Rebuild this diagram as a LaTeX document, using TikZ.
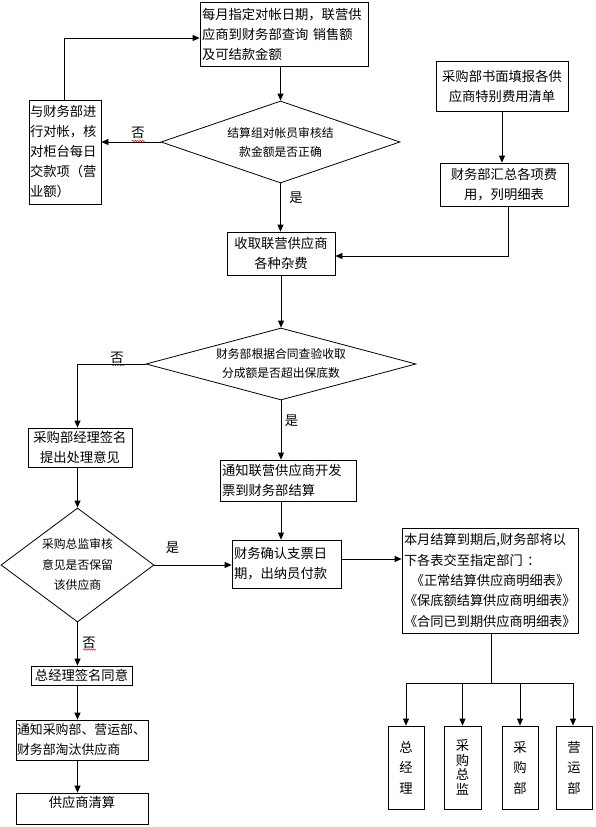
\documentclass[tikz,border=0pt]{standalone}
\usepackage{fontspec}
\setmainfont{Noto Sans CJK SC}
\usetikzlibrary{arrows.meta,shapes.geometric,decorations.pathmorphing}
\begin{document}
\begin{tikzpicture}[x=1pt,y=-1pt,
  every node/.style={inner sep=1pt},
  box/.style={draw,line width=0.8pt,rectangle,font=\fontsize{13.3}{20}\selectfont},
  dia/.style={draw,line width=0.8pt,diamond,inner sep=0pt,align=center},
  arr/.style={line width=0.8pt,-{Triangle[length=7pt,width=6pt]}},
  ln/.style={line width=0.8pt},
  lbl/.style={font=\fontsize{13.3}{16}\selectfont},
  wavy/.style={red,line width=0.5pt,decorate,decoration={snake,amplitude=0.7pt,segment length=2.5pt}}
]
\fill[white] (0,0) rectangle (596,827);
\useasboundingbox (0,0) rectangle (596,827);

% top flow
\node[box,minimum width=168pt,minimum height=64pt,text width=164pt,align=left] (b1) at (284,34)
  {每月指定对帐日期，联营供\\应商到财务部查询 销售额\\及可结款金额};
\node[dia,minimum width=239pt,minimum height=82pt,aspect=2.9,font=\fontsize{11.8}{19}\selectfont] (d1) at (280.5,142)
  {结算组对帐员审核结\\款金额是否正确};
\node[box,minimum width=72pt,minimum height=104pt,text width=70pt,align=left] (bL) at (65,152)
  {与财务部进\\行对帐，核\\对柜台每日\\交款项（营\\业额）};
\node[box,minimum width=108pt,minimum height=43pt,text width=104pt,align=center] (b2) at (281,253.5)
  {收取联营供应商\\各种杂费};
\node[box,minimum width=132pt,minimum height=50pt,text width=128pt,align=center] (bR1) at (502,86)
  {采购部书面填报各供\\应商特别费用清单};
\node[box,minimum width=128pt,minimum height=43pt,text width=124pt,align=center] (bR2) at (504,184.5)
  {财务部汇总各项费\\用，列明细表};

% middle
\node[dia,minimum width=270pt,minimum height=72pt,aspect=3.5,font=\fontsize{11.8}{19}\selectfont] (d2) at (281,364)
  {财务部根据合同查验收取\\分成额是否超出保底数};
\node[box,minimum width=104pt,minimum height=39pt,text width=100pt,align=center] (b3) at (80,447.5)
  {采购部经理签名\\提出处理意见};
\node[box,minimum width=136pt,minimum height=41pt,text width=132pt,align=left] (b4) at (288,480.5)
  {通知联营供应商开发\\票到财务部结算};
\node[box,minimum width=109pt,minimum height=48pt,text width=105pt,align=left] (b5) at (286.5,564)
  {财务确认支票日\\期，出纳员付款};
\node[box,minimum width=176pt,minimum height=105pt,text width=172pt,align=left,font=\fontsize{13.2}{20.3}\selectfont] (b6) at (490,580.5)
  {本月结算到期后,财务部将以\\下各表交至指定部门 ：\\\hspace*{6.8pt}《正常结算供应商明细表》\\《保底额结算供应商明细表》\\《合同已到期供应商明细表》};

% lower left
\node[dia,minimum width=153pt,minimum height=114pt,aspect=1.35,font=\fontsize{11.8}{20.5}\selectfont] (d3) at (77.5,565)
  {采购总监审核\\意见是否保留\\该供应商};
\node[box,minimum width=101pt,minimum height=19pt,text width=97pt,align=center] (b7) at (81.5,675.5)
  {总经理签名同意};
\node[box,minimum width=132pt,minimum height=40pt,text width=130pt,align=left,font=\fontsize{12.9}{20}\selectfont] (b8) at (82,740)
  {通知采购部、营运部、\\财务部淘汰供应商};
\node[box,minimum width=132pt,minimum height=31pt,text width=128pt,align=center] (b9) at (82,808.5)
  {\raisebox{5pt}[10pt][3pt]{供应商清算}};

% bottom right departments
\node[box,minimum width=36pt,minimum height=83pt,text width=32pt,align=center,font=\fontsize{13.3}{20.5}\selectfont] (k1) at (406,767.5) {总\\经\\理};
\node[box,minimum width=37pt,minimum height=83pt,text width=33pt,align=center,font=\fontsize{13.3}{14.5}\selectfont] (k2) at (462.5,767.5) {采\\购\\总\\监};
\node[box,minimum width=36pt,minimum height=83pt,text width=32pt,align=center,font=\fontsize{13.3}{20.5}\selectfont] (k3) at (520,767.5) {采\\购\\部};
\node[box,minimum width=36pt,minimum height=83pt,text width=32pt,align=center,font=\fontsize{13.3}{20.5}\selectfont] (k4) at (574,767.5) {营\\运\\部};

% labels
\node[lbl] (n1) at (138,133) {否};
\node[lbl] (y1) at (296,198) {是};
\node[lbl] (n2) at (117,358) {否};
\node[lbl] (y2) at (291.5,421) {是};
\node[lbl] (y3) at (172.5,547.5) {是};
\node[lbl] (n3) at (89,642.5) {否};
\draw[wavy] (132,141) -- (145,141);
\draw[wavy] (111,365) -- (124,365);
\draw[wavy] (83,649.5) -- (96,649.5);

% connectors
\draw[arr] (d1.north |- b1.south) -- (d1.north);
\draw[arr] (d1.west) -- (d1.west -| bL.east);
\draw[arr] ([xshift=-1pt]bL.north) |- ([yshift=-4pt]b1.west);
\draw[arr] (d1.south) -- (d1.south |- b2.north);
\draw[arr] (bR1.south) -- (bR1.south |- bR2.north);
\draw[arr] ([xshift=4pt]bR2.south) |- ([yshift=-2.5pt]b2.east);
\draw[arr] (d2.north |- b2.south) -- (d2.north);
\draw[arr] (d2.west) -| (d3.north |- b3.north);
\draw[arr] (d2.south) -- (d2.south |- b4.north);
\draw[arr] (d2.south |- b4.south) -- (d2.south |- b5.north);
\draw[arr] ([yshift=5pt]b5.east) -- ([yshift=5pt]b5.east -| b6.west);
\draw[arr] (d3.north |- b3.south) -- (d3.north);
\draw[arr] (d3.east) -- (d3.east -| b5.west);
\draw[arr] (d3.south) -- (d3.south |- b7.north);
\draw[arr] (d3.south |- b7.south) -- (d3.south |- b8.north);
\draw[arr] (d3.south |- b8.south) -- (d3.south |- b9.north);
\coordinate (j) at (491,683);
\draw[ln] (j |- b6.south) -- (j);
\draw[ln] (k1.north |- j) -- (k4.north |- j);
\draw[arr] (k1.north |- j) -- (k1.north);
\draw[arr] (k2.north |- j) -- (k2.north);
\draw[arr] (k3.north |- j) -- (k3.north);
\draw[arr] ([xshift=-1pt]k4.north |- j) -- ([xshift=-1pt]k4.north);
\end{tikzpicture}
\end{document}
